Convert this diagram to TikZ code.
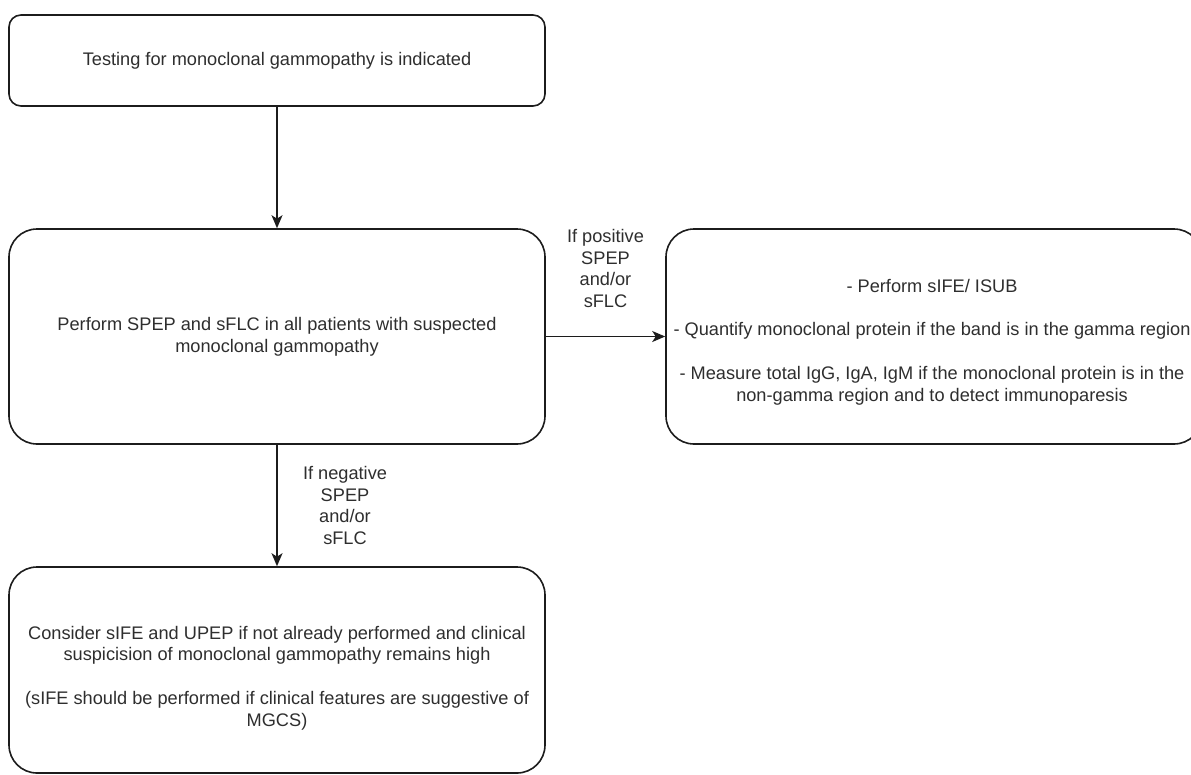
\documentclass[tikz,border=0pt]{standalone}
\usepackage{fontspec}
\setmainfont{Liberation Sans}
\usetikzlibrary{arrows.meta}
\definecolor{txt}{HTML}{2E2E2E}
\definecolor{ln}{HTML}{1C1C1C}
\begin{document}
\begin{tikzpicture}[x=1pt,y=-1pt,
  fnt/.style={font=\fontsize{18.2}{21.8}\selectfont, text=txt},
  box/.style={draw=ln, line width=1.6pt, rectangle, rounded corners=28pt,
    minimum width=536pt, inner sep=0pt, align=center, fnt},
  lbl/.style={align=center, inner sep=0pt, fnt},
  arr/.style={draw=ln, line width=1.6pt, -{Stealth[length=13pt,width=11pt,inset=3.5pt]}}]
\useasboundingbox (0,0) rectangle (1191,774);

\node[box, rounded corners=12pt, minimum height=91pt] (b1) at (277,60.5)
  {Testing for monoclonal gammopathy is indicated};
\node[box, minimum height=215pt] (b2) at (277,336.5)
  {Perform SPEP and sFLC in all patients with suspected\\monoclonal gammopathy};
\node[box, minimum height=206pt] (b3) at (277,670) {};
\node[lbl] (t3) at (277,678)
  {Consider sIFE and UPEP if not already performed and clinical\\
   suspicision of monoclonal gammopathy remains high\\[21.8pt]
   (sIFE should be performed if clinical features are suggestive of\\MGCS)};
\node[box, minimum height=215pt] (b4) at (934,336.5) {};
\node[lbl] (t4) at (932,342)
  {- Perform sIFE/ ISUB\\[21.8pt]
   - Quantify monoclonal protein if the band is in the gamma region\\[21.8pt]
   - Measure total IgG, IgA, IgM if the monoclonal protein is in the\\
   non-gamma region and to detect immunoparesis};

\draw[arr] (b1) -- (b2);
\draw[arr] (b2) -- (b3);
\draw[arr] (b2) -- (b4);

\node[lbl] (lp) at (605.5,268.5) {If positive\\SPEP\\and/or\\sFLC};
\node[lbl] (ln) at (345,505.5) {If negative\\SPEP\\and/or\\sFLC};
\end{tikzpicture}
\end{document}
